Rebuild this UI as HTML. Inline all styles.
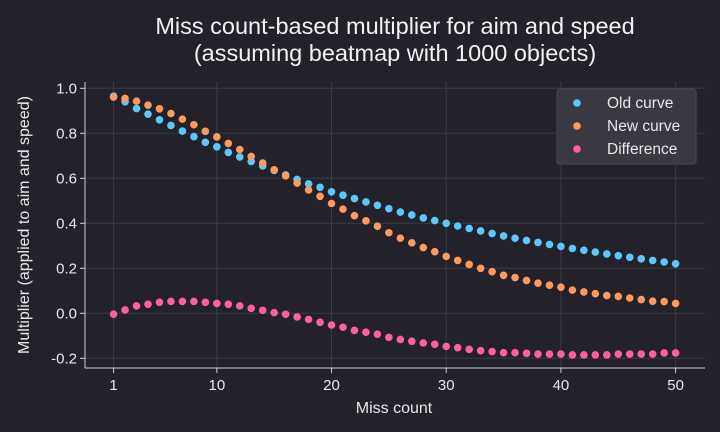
<!DOCTYPE html>
<html><head><meta charset="utf-8"><style>
body{margin:0;background:#23222b;}
svg{display:block;font-family:"Liberation Sans","DejaVu Sans",sans-serif;}
</style></head><body>
<svg id="chart" width="720" height="432">
<rect width="720" height="432" fill="#23222b"/>
<text x="395" y="34" text-anchor="middle" font-size="23.5" fill="#f2f2f2">Miss count-based multiplier for aim and speed</text>
<text x="395" y="61" text-anchor="middle" font-size="23.5" fill="#f2f2f2">(assuming beatmap with 1000 objects)</text>
<g id="grid"></g>
<g id="marks"></g>
<line x1="85" y1="82" x2="85" y2="368" stroke="#cfcfcf" stroke-width="1"/>
<line x1="85" y1="368" x2="705" y2="368" stroke="#cfcfcf" stroke-width="1"/>
<g id="ticks"></g>
<text x="394" y="413" text-anchor="middle" font-size="16" fill="#e8e8e8">Miss count</text>
<text transform="translate(29,225) rotate(-90)" text-anchor="middle" font-size="16" fill="#e8e8e8">Multiplier (applied to aim and speed)</text>
<g>
<rect x="557" y="89" width="139" height="75" rx="3" fill="#3a3942" stroke="#4a4952"/>
<circle cx="577" cy="103" r="3.8" fill="#5bc8fb"/>
<text x="607" y="108" font-size="15.5" fill="#e8e8e8">Old curve</text>
<circle cx="577" cy="126" r="3.8" fill="#ff9a5c"/>
<text x="607" y="131" font-size="15.5" fill="#e8e8e8">New curve</text>
<circle cx="577" cy="149" r="3.8" fill="#ff5fa2"/>
<text x="607" y="154" font-size="15.5" fill="#e8e8e8">Difference</text>
</g>
</svg>
<script>
const misses=[];for(let i=1;i<=50;i++)misses.push(i);
const oldCurve=[.965,.94,.91,.885,.86,.835,.81,.785,.76,.74,.715,.695,.675,.655,.635,.615,.595,.575,.56,.54,.525,.51,.495,.48,.465,.45,.437,.424,.412,.40,.388,.377,.366,.355,.344,.334,.324,.315,.306,.297,.288,.28,.272,.264,.256,.249,.242,.235,.228,.22];
const newCurve=[.961,.955,.943,.925,.909,.888,.863,.838,.809,.784,.755,.728,.697,.668,.638,.611,.579,.548,.52,.488,.463,.434,.411,.387,.358,.334,.313,.292,.274,.253,.235,.217,.2,.185,.169,.159,.146,.134,.125,.116,.103,.095,.087,.079,.075,.068,.061,.054,.052,.044];
const diffCurve=[-.004,.015,.033,.04,.049,.053,.053,.053,.049,.044,.04,.033,.022,.013,.003,-.004,-.016,-.027,-.04,-.052,-.062,-.076,-.084,-.093,-.107,-.116,-.124,-.132,-.138,-.147,-.153,-.16,-.166,-.17,-.175,-.175,-.178,-.181,-.181,-.181,-.185,-.185,-.185,-.185,-.181,-.181,-.181,-.181,-.176,-.176];
const xTicks=[1,10,20,30,40,50];
const yTicks=[-0.2,0,0.2,0.4,0.6,0.8,1.0];
const NS="http://www.w3.org/2000/svg";
const xs=v=>113.6+(v-1)*11.47;
const ys=v=>313.3-v*225;
const grid=document.getElementById('grid'),ticks=document.getElementById('ticks'),marks=document.getElementById('marks');
function mk(t,a,p){const e=document.createElementNS(NS,t);for(const k in a)e.setAttribute(k,a[k]);p.appendChild(e);return e;}
xTicks.forEach(t=>{
 const g=mk('line',{x1:xs(t),x2:xs(t),y1:82,y2:368,stroke:'#3b3a44','stroke-width':1},grid);
 
 
 const l=mk('line',{x1:xs(t),x2:xs(t),y1:368,y2:373,stroke:'#cfcfcf'},ticks);
 
 
 const tx=mk('text',{x:xs(t),y:390,'text-anchor':'middle','font-size':15,fill:'#e8e8e8'},ticks);tx.textContent=t;
 
 
});
yTicks.forEach(t=>{
 const g=mk('line',{x1:85,x2:705,y1:ys(t),y2:ys(t),stroke:'#3b3a44','stroke-width':1},grid);
 
 
 const l=mk('line',{x1:80,x2:85,y1:ys(t),y2:ys(t),stroke:'#cfcfcf'},ticks);
 
 
 const tx=mk('text',{x:77,y:ys(t)+5,'text-anchor':'end','font-size':15,fill:'#e8e8e8'},ticks);tx.textContent=t.toFixed(1);
 
 
});
[[oldCurve,'#5bc8fb','old-curve-point'],[newCurve,'#ff9a5c','new-curve-point'],[diffCurve,'#ff5fa2','difference-point']].forEach(([arr,c,n])=>{
 arr.forEach((v,i)=>{
  const d=mk('circle',{cx:xs(misses[i]),cy:ys(v),r:3.8,fill:c},marks);
  
  
 });
});
</script>
</body></html>
